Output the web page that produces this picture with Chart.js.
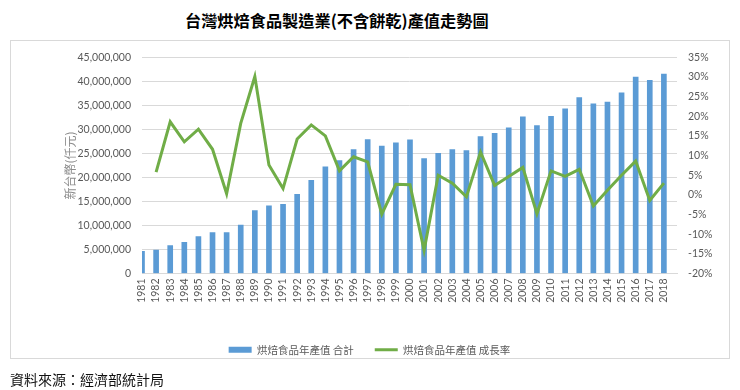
<!DOCTYPE html>
<html>
<head>
<meta charset="utf-8">
<script src="https://cdn.jsdelivr.net/npm/chart.js@4/dist/chart.umd.min.js"></script>
<style>
  html, body { margin: 0; padding: 0; background: #fff; }
  body { width: 740px; height: 390px; position: relative; overflow: hidden; }
  #title { position: absolute; left: 185px; top: 11px; font: bold 16.2px/18px "Noto Sans CJK TC", sans-serif; color: #000; white-space: nowrap; }
  #frame { position: absolute; left: 10px; top: 40px; width: 718px; height: 317px; border: 1px solid #d9d9d9; pointer-events: none; }
  #wrap { position: absolute; left: 10px; top: 40px; width: 719px; height: 350px; }
  #source { position: absolute; left: 10px; top: 372px; font: 14px/15px "Noto Sans CJK TC", sans-serif; color: #111; white-space: nowrap; }
</style>
</head>
<body>
<div id="title">台灣烘焙食品製造業(不含餅乾)產值走勢圖</div>
<div id="frame"></div>
<div id="wrap"><canvas id="c" width="719" height="350"></canvas></div>
<div id="source">資料來源：經濟部統計局</div>
<script>
const years = ['1981','1982','1983','1984','1985','1986','1987','1988','1989','1990',
  '1991','1992','1993','1994','1995','1996','1997','1998','1999','2000',
  '2001','2002','2003','2004','2005','2006','2007','2008','2009','2010',
  '2011','2012','2013','2014','2015','2016','2017','2018'];
const outputTotal = [4600000,4900000,5800000,6500000,7700000,8500000,8500000,10100000,13100000,14100000,
  14400000,16500000,19400000,22200000,23500000,25800000,27900000,26500000,27200000,27800000,
  23900000,25000000,25800000,25600000,28500000,29200000,30300000,32600000,30800000,32700000,
  34300000,36600000,35300000,35700000,37600000,40900000,40200000,41500000];
const growthRate = [null,5.8,18.6,13.5,16.7,11.6,0.3,18.2,30.1,7.6,
  1.6,14.2,17.8,15.0,6.1,9.7,8.4,-4.9,2.7,2.6,
  -14.1,5.0,3.0,-0.5,10.9,2.4,4.7,7.0,-4.8,6.1,
  4.7,6.5,-2.8,1.2,5.0,8.6,-1.4,3.0];
const leftTicks = [0,5000000,10000000,15000000,20000000,25000000,30000000,35000000,40000000,45000000];
const rightTicks = [-20,-15,-10,-5,0,5,10,15,20,25,30,35];
const seriesNames = ['烘焙食品年產值 合計','烘焙食品年產值 成長率'];
const axisTitle = '新台幣(仟元)';

const tickFont = { family: 'Lato, "Noto Sans CJK TC", sans-serif', size: 10.5 };
const tickColor = '#595959';

new Chart(document.getElementById('c'), {
  data: {
    labels: years,
    datasets: [
      { type: 'line', label: seriesNames[1], data: growthRate, yAxisID: 'yR',
        borderColor: '#70ad47', backgroundColor: '#70ad47', borderWidth: 3,
        pointRadius: 0, pointStyle: 'line', tension: 0, order: 0 },
      { type: 'bar', label: seriesNames[0], data: outputTotal, yAxisID: 'yL',
        backgroundColor: '#5b9bd5', barThickness: 5, pointStyle: 'rect', order: 1 }
    ]
  },
  options: {
    responsive: false,
    animation: false,
    layout: { padding: { left: 0, top: 10, right: 0, bottom: 25 } },
    plugins: {
      legend: {
        position: 'bottom',
        reverse: true,
        labels: {
          usePointStyle: true, pointStyleWidth: 23, boxHeight: 6,
          padding: 21, color: tickColor,
          font: { family: '"Noto Sans CJK TC", sans-serif', size: 10.5 }
        }
      },
      tooltip: { enabled: false }
    },
    scales: {
      x: {
        type: 'category',
        offset: false,
        grid: { display: false, drawTicks: false },
        border: { display: true, color: '#d9d9d9', width: 1 },
        ticks: { autoSkip: false, minRotation: 90, maxRotation: 90, padding: 5, color: tickColor, font: tickFont },
        afterBuildTicks: s => { s._valueRange = years.length - 1 + 0.93; },
        afterFit: s => { s.height = 50; }
      },
      yL: {
        type: 'linear', position: 'left',
        min: leftTicks[0], max: leftTicks[leftTicks.length - 1],
        afterBuildTicks: s => { s.ticks = leftTicks.map(v => ({ value: v })); },
        grid: { color: '#d9d9d9', drawTicks: false },
        border: { display: false },
        ticks: { padding: 11, color: tickColor, font: tickFont,
          callback: v => Number(v).toLocaleString('en-US') },
        title: { display: true, text: axisTitle, color: '#8c8c8c',
          padding: { top: 53, bottom: 4 },
          font: { family: '"Noto Sans CJK TC", sans-serif', size: 12 } },
        afterFit: s => { s.width = 132; }
      },
      yR: {
        type: 'linear', position: 'right',
        min: rightTicks[0], max: rightTicks[rightTicks.length - 1],
        afterBuildTicks: s => { s.ticks = rightTicks.map(v => ({ value: v })); },
        grid: { display: false, drawTicks: false },
        border: { display: false },
        ticks: { padding: 11, color: tickColor, font: tickFont, callback: v => v + '%' },
        afterFit: s => { s.width = 52; }
      }
    }
  }
});
</script>
</body>
</html>
